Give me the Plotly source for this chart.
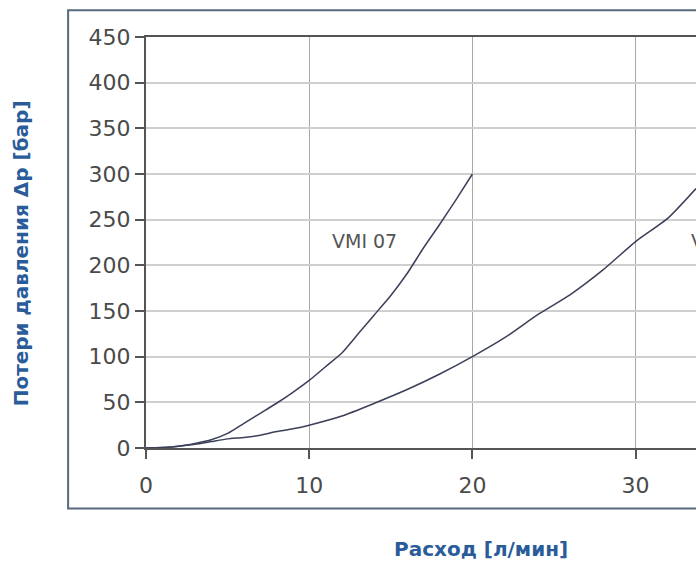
import plotly.graph_objects as go

# VMI 07 curve
vmi07_x = [0, 1, 2, 3, 4, 5, 6, 7, 8, 9, 10, 11, 12, 13, 14, 15, 16, 17, 18, 19, 20]
vmi07_y = [0, 0.5, 2, 5, 9, 16, 27, 38, 49, 61, 74, 89, 104, 125, 146, 167, 191, 219, 245, 272, 300]

# second curve (label cut at the right edge)
vmi10_x = [0, 1, 2, 3, 4, 5, 6, 7, 8, 9, 10, 12, 14, 16, 18, 20, 22, 24, 26, 28, 30, 32, 33.7]
vmi10_y = [0, 0.5, 2, 4, 7, 10, 11.5, 14, 18, 21, 25, 35, 49, 64, 81, 100, 121, 146, 168, 195, 226, 252, 284]

x_ticks = [0, 10, 20, 30]
y_ticks = [0, 50, 100, 150, 200, 250, 300, 350, 400, 450]

labels = ["VMI 07", "VMI 10"]
label_pos = [(13.4, 227), (33.3, 227)]

y_title = "Потери давления Δp [бар]"
x_title = "Расход [л/мин]"

curve_color = "#3b3f58"
title_color = "#2a5c9a"
tick_color = "#4a4a4a"

fig = go.Figure()
fig.add_trace(go.Scatter(x=vmi07_x, y=vmi07_y, mode="lines",
                         line=dict(color=curve_color, width=1.5, shape="spline", smoothing=0.6),
                         showlegend=False))
fig.add_trace(go.Scatter(x=vmi10_x, y=vmi10_y, mode="lines",
                         line=dict(color=curve_color, width=1.5, shape="spline", smoothing=0.6),
                         showlegend=False))

for txt, (lx, ly) in zip(labels, label_pos):
    fig.add_annotation(x=lx, y=ly, xref="x", yref="y", text=txt, showarrow=False,
                       xanchor="center" if txt == "VMI 07" else "left", yanchor="middle",
                       font=dict(family="DejaVu Sans", size=19, color="#555555"))

fig.add_annotation(x=-0.227, y=0.474, xref="paper", yref="paper", text=y_title,
                   showarrow=False, textangle=-90, xanchor="center", yanchor="middle",
                   font=dict(family="DejaVu Sans", size=20, color=title_color, weight="bold"))
fig.add_annotation(x=0.609, y=-0.2457, xref="paper", yref="paper", text=x_title,
                   showarrow=False, xanchor="center", yanchor="middle",
                   font=dict(family="DejaVu Sans", size=20, color=title_color, weight="bold"))

# outer frame
fig.add_shape(type="rect", xref="paper", yref="paper",
              x0=-0.1416, x1=1.1, y0=-0.147, y1=1.065,
              line=dict(color="#56697f", width=2), layer="below")

fig.update_xaxes(range=[0, 33.7], tickvals=x_ticks, showgrid=True,
                 gridcolor="#a8a8a8", gridwidth=1,
                 showline=True, linecolor="#555555", linewidth=2, mirror=True,
                 ticks="outside", ticklen=9, tickcolor="#555555", tickwidth=1.5,
                 ticklabelstandoff=8,
                 tickfont=dict(family="DejaVu Sans", size=22, color=tick_color),
                 zeroline=False, fixedrange=True)
fig.update_yaxes(range=[0, 450], tickvals=y_ticks, showgrid=True,
                 gridcolor="#cfcfcf", gridwidth=2,
                 showline=True, linecolor="#555555", linewidth=2, mirror=False,
                 ticks="outside", ticklen=9, tickcolor="#555555", tickwidth=1.5,
                 tickfont=dict(family="DejaVu Sans", size=22, color=tick_color),
                 zeroline=False, fixedrange=True)

fig.update_layout(width=696, height=562,
                  margin=dict(l=146, r=0, t=37, b=114),
                  paper_bgcolor="white", plot_bgcolor="white")

# remove the default page margin and scrollbars so the figure fills the window
fig.write_html("out.html",
               config={"displayModeBar": False},
               post_script="document.body.style.margin='0';"
                           "document.body.style.overflow='hidden';"
                           "document.documentElement.style.overflow='hidden';")
